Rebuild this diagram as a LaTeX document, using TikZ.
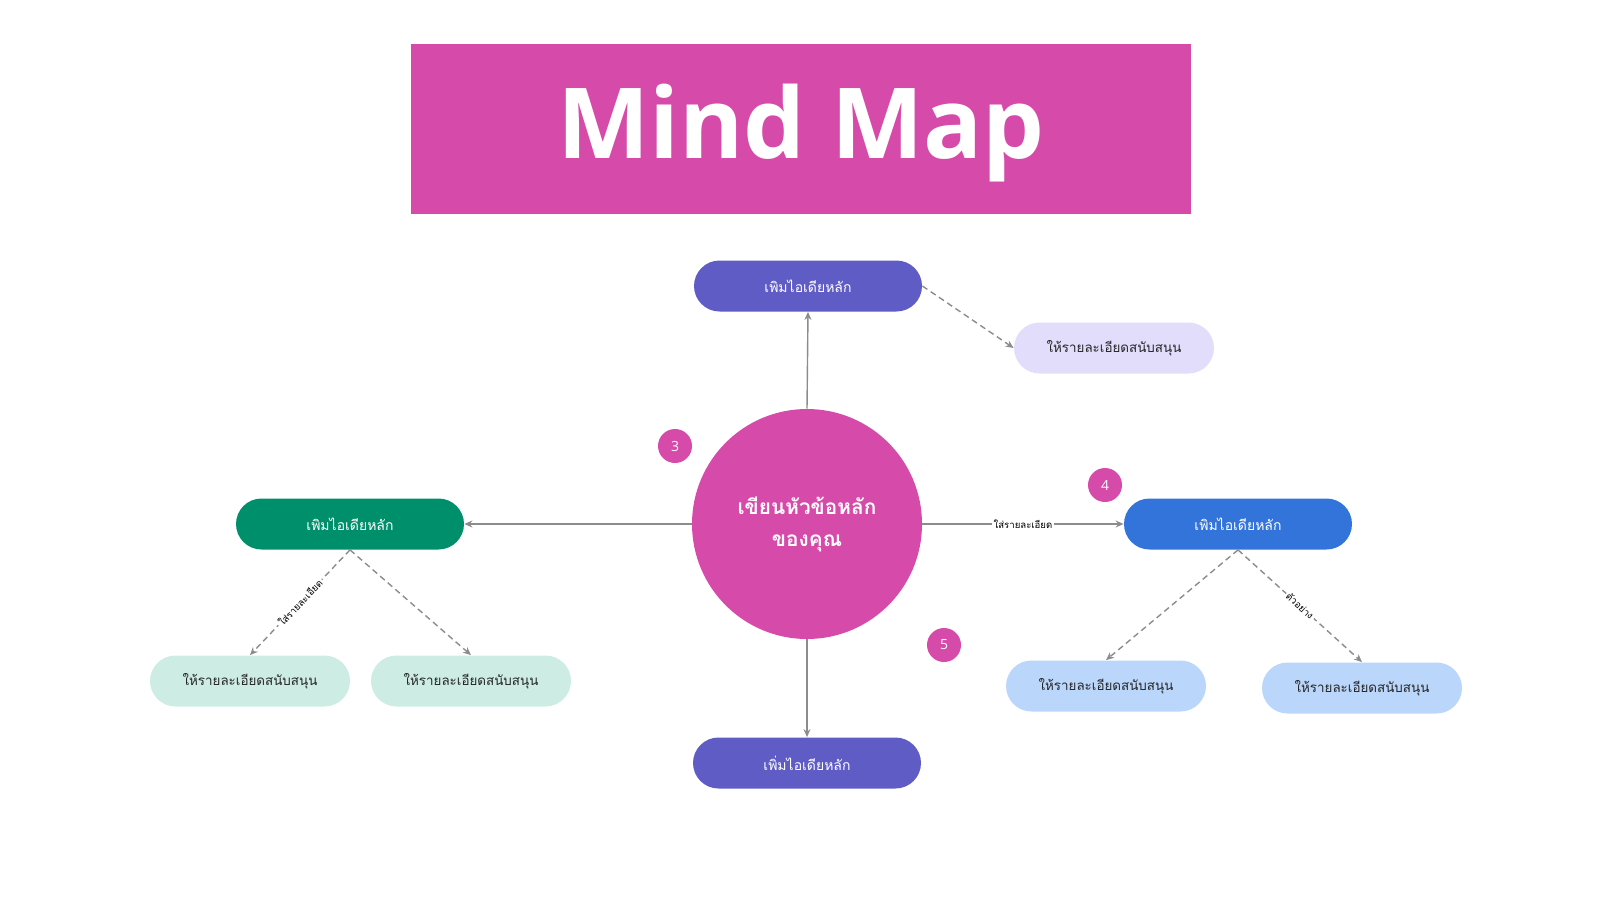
\documentclass[tikz,border=0pt]{standalone}
\usepackage{fontspec}
\setmainfont{Open Sans}
\newfontfamily\thaifont[Script=Thai]{Loma}
\usetikzlibrary{arrows.meta}
\definecolor{magenta1}{HTML}{D64BAA}
\definecolor{purple1}{HTML}{605CC6}
\definecolor{lavender}{HTML}{E2DDFB}
\definecolor{green1}{HTML}{008F6B}
\definecolor{mint}{HTML}{CDEDE4}
\definecolor{blue1}{HTML}{3274D9}
\definecolor{lightblue}{HTML}{BBD6FB}
\definecolor{linegray}{HTML}{8C8C8C}
\tikzset{
  mainbox/.style={rounded corners=12.75pt, minimum width=114pt, minimum height=25.5pt, text=white, font=\thaifont\fontsize{7}{9}\selectfont, inner sep=0pt},
  subbox/.style={rounded corners=12.75pt, minimum width=100pt, minimum height=25.5pt, text=black!85, font=\thaifont\fontsize{6.7}{9}\selectfont, inner sep=0pt},
  badge/.style={circle, fill=magenta1, minimum size=17pt, inner sep=0pt, text=white, font=\fontsize{7}{8}\selectfont},
  conn/.style={draw=linegray, line width=0.7pt, -{Stealth[length=4pt,width=3.5pt]}},
  dconn/.style={conn, dashed, dash pattern=on 3pt off 2pt},
  lbl/.style={fill=white, inner sep=1pt, text=black, font=\thaifont\fontsize{4.8}{6}\selectfont}
}
\begin{document}
\begin{tikzpicture}[x=0.5pt, y=-0.5pt]
\useasboundingbox (0,0) rectangle (1600,900);
\node[fill=magenta1, minimum width=390pt, minimum height=85pt, inner sep=0pt] (title) at (801,129) {};
\node[text=white, font=\bfseries\fontsize{49}{56}\selectfont, inner sep=0pt, anchor=base] (titletext) at (801,158) {Mind Map};
\node[circle, fill=magenta1, minimum size=115pt, inner sep=0pt, text=white, align=center, font=\thaifont\bfseries\fontsize{10.4}{16}\selectfont] (center) at (807,524) {เขียนหัวข้อหลัก\\ของคุณ};
\node[mainbox, fill=purple1] (top) at (808,286) {เพิมไอเดียหลัก};
\node[subbox, fill=lavender] (topsub) at (1114,348) {ให้รายละเอียดสนับสนุน};
\node[mainbox, fill=green1] (left) at (350,524) {เพิมไอเดียหลัก};
\node[subbox, fill=mint] (lsub1) at (250,681) {ให้รายละเอียดสนับสนุน};
\node[subbox, fill=mint] (lsub2) at (471,681) {ให้รายละเอียดสนับสนุน};
\node[mainbox, fill=blue1] (right) at (1238,524) {เพิมไอเดียหลัก};
\node[subbox, fill=lightblue] (rsub1) at (1106,686) {ให้รายละเอียดสนับสนุน};
\node[subbox, fill=lightblue] (rsub2) at (1362,688) {ให้รายละเอียดสนับสนุน};
\node[mainbox, fill=purple1] (bottom) at (807,763) {เพิ่มไอเดียหลัก};
\node[badge] (b3) at (675,446) {3};
\node[badge] (b4) at (1105,485) {4};
\node[badge] (b5) at (944,645) {5};
\draw[conn] (center.north) -- (top.south);
\draw[conn] (center.south) -- (bottom.north);
\draw[conn] (center.west) -- (left.east);
\draw[conn] (center.east) -- node[lbl] {ใส่รายละเอียด} (right.west);
\draw[dconn] (top.east) -- (topsub.west);
\draw[dconn] (left.south) -- node[lbl, sloped] {ใส่รายละเอียด} (lsub1.north);
\draw[dconn] (left.south) -- (lsub2.north);
\draw[dconn] (right.south) -- (rsub1.north);
\draw[dconn] (right.south) -- node[lbl, sloped] {ตัวอย่าง} (rsub2.north);
\end{tikzpicture}
\end{document}
